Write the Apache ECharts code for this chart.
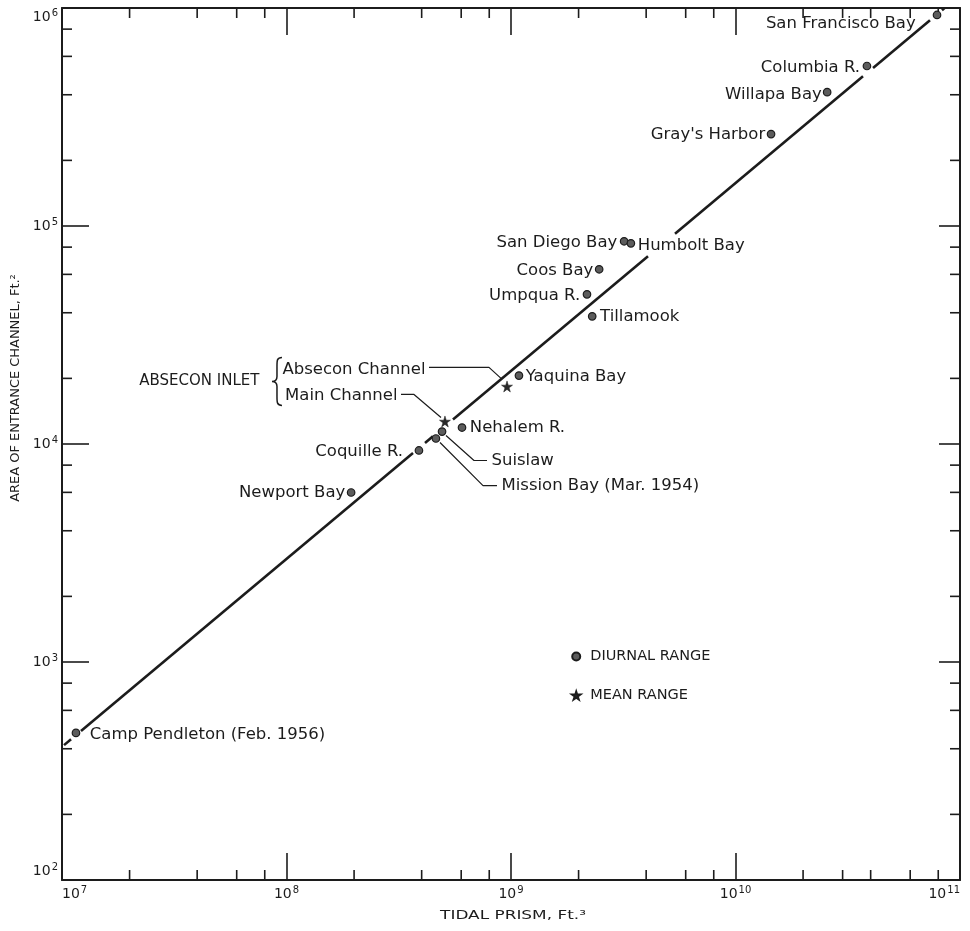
<!DOCTYPE html>
<html>
<head>
<meta charset="utf-8">
<script src="https://cdn.jsdelivr.net/npm/echarts@6.0.0/dist/echarts.min.js"></script>
<style>
html,body{margin:0;padding:0;background:#fff;}
#chart{width:970px;height:931px;}
</style>
</head>
<body>
<div id="chart"></div>
<script>
// ---------- data ----------
const xTickExponents = [7, 8, 9, 10, 11];
const yTickExponents = [2, 3, 4, 5, 6];
const minorXTicks = [2e7, 4e7, 6e7, 8e7, 2e8, 4e8, 6e8, 8e8, 2e9, 4e9, 6e9, 8e9, 2e10, 3e10, 4e10, 6e10, 8e10];
const minorYTicks = [200, 400, 600, 800, 2e3, 4e3, 6e3, 8e3, 2e4, 4e4, 6e4, 8e4, 2e5, 4e5, 6e5, 8e5];

// Diurnal range inlets (circles)
const diurnalNames = ['San Francisco Bay', 'Columbia R.', 'Willapa Bay', "Gray's Harbor", 'San Diego Bay', 'Humbolt Bay',
  'Coos Bay', 'Umpqua R.', 'Tillamook', 'Yaquina Bay', 'Nehalem R.', 'Suislaw', 'Mission Bay (Mar. 1954)',
  'Coquille R.', 'Newport Bay', 'Camp Pendleton (Feb. 1956)'];
const diurnalPrism = [7.90e10, 3.85e10, 2.56e10, 1.44e10, 3.19e9, 3.42e9,
  2.47e9, 2.18e9, 2.30e9, 1.085e9, 6.05e8, 4.93e8, 4.63e8,
  3.89e8, 1.94e8, 1.154e7];
const diurnalArea = [9.29e5, 5.42e5, 4.11e5, 2.64e5, 85100, 83300,
  63300, 48600, 38500, 20600, 11900, 11400, 10600,
  9340, 5990, 473];

// Mean range (stars) — Absecon Inlet
const meanNames = ['Absecon Channel', 'Main Channel'];
const meanPrism = [9.6e8, 5.08e8];
const meanArea = [18370, 12690];

// Fitted line, drawn as broken segments [P start, P end], [A start, A end]
const fitSegPrism = [[1.021e7, 1.097e7], [1.215e7, 3.66e8], [4.14e8, 4.49e8], [5.515e8, 4.076e9], [5.377e9, 3.698e10], [4.099e10, 7.35e10], [8.314e10, 8.53e10]];
const fitSegArea = [[415.6, 442.3], [483.1, 9097], [10113, 10856], [12952, 72627], [92212, 486060], [531000, 879000], [977200, 1.0e6]];

// Leader lines (prism, area)
const leaderAbseconP = [4.313e8, 7.98e8, 9.03e8];
const leaderAbseconA = [22460, 22460, 19990];
const leaderMainP = [3.236e8, 3.698e8, 4.878e8];
const leaderMainA = [16880, 16880, 13240];
const leaderSuislawP = [5.134e8, 6.842e8, 7.818e8];
const leaderSuislawA = [10940, 8400, 8400];
const leaderMissionP = [4.828e8, 7.505e8, 8.66e8];
const leaderMissionA = [10160, 6447, 6447];

// Annotation texts anchored in data space
const noteTexts = ['Absecon Channel', 'Main Channel', 'Suislaw', 'Mission Bay (Mar. 1954)', 'ABSECON INLET'];
const notePrism = [4.313e8, 3.236e8, 7.818e8, 8.66e8, 9.07e7];
const noteArea = [22460, 16880, 8400, 6447, 19370];
const braceAnchor = [9.07e7, 19370];

// ---------- styles / placements ----------
const INK = '#1c1c1c';
const FONT = 'DejaVu Sans';
const labelPlace = {
  'San Francisco Bay': ['left', 17, 9],
  'Columbia R.': ['left', 2.5, 2],
  'Willapa Bay': ['left', 1, 3],
  "Gray's Harbor": ['left', 1.5, 1],
  'San Diego Bay': ['left', 2.5, 1],
  'Humbolt Bay': ['right', 2.5, 2],
  'Coos Bay': ['left', 1.5, 1],
  'Umpqua R.': ['left', 2.5, 1],
  'Tillamook': ['right', 3.5, 0],
  'Yaquina Bay': ['right', 2.5, 1],
  'Nehalem R.': ['right', 3.5, 0],
  'Coquille R.': ['left', 11.5, 1],
  'Newport Bay': ['left', 1.5, 0],
  'Camp Pendleton (Feb. 1956)': ['right', 9.5, 2]
};
const notePlace = {
  'Absecon Channel': ['left', 3, 2],
  'Main Channel': ['left', 3, 1],
  'Suislaw': ['right', 4, 0],
  'Mission Bay (Mar. 1954)': ['right', 4, 0],
  'ABSECON INLET': ['left', 17, 0]
};
const LABEL_FS = 16.5;
const STAR = 'path://M50,0 L61,35 L98,35 L68,57 L79,91 L50,70 L21,91 L32,57 L2,35 L39,35 Z';

function expLabel(list) {
  return function (v) {
    const e = Math.round(Math.log10(v));
    return list.indexOf(e) >= 0 ? '{base|10}{sup|' + e + '}' : '';
  };
}
const richTick = {
  base: { fontSize: 14, fontFamily: FONT, color: INK },
  sup: { fontSize: 10, fontFamily: FONT, color: INK, padding: [0, 0, 8, 1] }
};

function axisBase(extra) {
  return Object.assign({
    type: 'log', logBase: 10,
    axisLine: { show: true, lineStyle: { color: INK, width: 2 } },
    axisTick: { show: true, inside: true, length: 27, lineStyle: { color: INK, width: 1.6 } },
    splitLine: { show: false },
    minorTick: { show: false }
  }, extra);
}

const series = [];

// fit line segments
fitSegPrism.forEach(function (seg, i) {
  series.push({
    type: 'line', silent: true, symbol: 'none', z: 2,
    lineStyle: { color: INK, width: 2.6 },
    data: [[seg[0], fitSegArea[i][0]], [seg[1], fitSegArea[i][1]]]
  });
});

// leader lines
[[leaderAbseconP, leaderAbseconA], [leaderMainP, leaderMainA], [leaderSuislawP, leaderSuislawA], [leaderMissionP, leaderMissionA]].forEach(function (pair) {
  series.push({
    type: 'line', silent: true, symbol: 'none', z: 2,
    lineStyle: { color: INK, width: 1.2 },
    data: pair[0].map(function (p, i) { return [p, pair[1][i]]; })
  });
});

// diurnal range points
series.push({
  name: 'DIURNAL RANGE', type: 'scatter', z: 4,
  symbol: 'circle', symbolSize: 7.5,
  itemStyle: { color: '#5c5c5c', borderColor: INK, borderWidth: 1.2, opacity: 1 },
  data: diurnalNames.map(function (n, i) {
    const pl = labelPlace[n];
    const item = { name: n, value: [diurnalPrism[i], diurnalArea[i]] };
    if (pl) {
      item.label = { show: true, formatter: n, position: pl[0], distance: pl[1], offset: [0, pl[2]],
        fontSize: LABEL_FS, fontFamily: FONT, color: INK };
    }
    return item;
  })
});

// mean range stars
series.push({
  name: 'MEAN RANGE', type: 'scatter', z: 4,
  symbol: STAR, symbolSize: 11,
  itemStyle: { color: '#2a2a2a', borderColor: INK, borderWidth: 0.5, opacity: 1 },
  data: meanNames.map(function (n, i) { return { name: n, value: [meanPrism[i], meanArea[i]] }; })
});

// annotation text anchors
series.push({
  type: 'scatter', silent: true, z: 5, symbolSize: 1,
  itemStyle: { color: 'rgba(0,0,0,0)', borderWidth: 0, opacity: 1 },
  data: noteTexts.map(function (t, i) {
    const pl = notePlace[t];
    return { name: t, value: [notePrism[i], noteArea[i]],
      label: { show: true, formatter: t, position: pl[0], distance: pl[1], offset: [0, pl[2]],
        fontSize: t === 'ABSECON INLET' ? 15 : LABEL_FS, fontFamily: FONT, color: INK, opacity: 1 } };
  })
});

// brace
series.push({
  type: 'custom', silent: true, z: 5, clip: false,
  data: [braceAnchor],
  renderItem: function (params, api) {
    const c = api.coord([api.value(0), api.value(1)]);
    return {
      type: 'path',
      shape: { pathData: 'M10,0 C5,0 5,3 5,9 L5,19 C5,22.5 3,24 0,24 C3,24 5,25.5 5,29 L5,39 C5,45 5,48 10,48',
        x: c[0] - 5, y: c[1] - 24, width: 10, height: 48, layout: 'cover' },
      style: { fill: 'none', stroke: INK, lineWidth: 1.5 }
    };
  }
});

// minor ticks on bottom/top
series.push({
  type: 'custom', silent: true, z: 3, clip: false,
  data: minorXTicks.map(function (v) { return [v, 1000]; }),
  renderItem: function (params, api) {
    const v = api.value(0);
    const b = api.coord([v, 100]);
    const t = api.coord([v, 1e6]);
    const st = { stroke: INK, lineWidth: 1.6 };
    return { type: 'group', children: [
      { type: 'line', shape: { x1: b[0], y1: b[1], x2: b[0], y2: b[1] - 10 }, style: st },
      { type: 'line', shape: { x1: t[0], y1: t[1], x2: t[0], y2: t[1] + 10 }, style: st }
    ] };
  }
});
// minor ticks on left/right
series.push({
  type: 'custom', silent: true, z: 3, clip: false,
  data: minorYTicks.map(function (v) { return [1e9, v]; }),
  renderItem: function (params, api) {
    const v = api.value(1);
    const l = api.coord([1e7, v]);
    const r = api.coord([1e11, v]);
    const st = { stroke: INK, lineWidth: 1.6 };
    return { type: 'group', children: [
      { type: 'line', shape: { x1: l[0], y1: l[1], x2: l[0] + 10, y2: l[1] }, style: st },
      { type: 'line', shape: { x1: r[0], y1: r[1], x2: r[0] - 10, y2: r[1] }, style: st }
    ] };
  }
});

const chart = echarts.init(document.getElementById('chart'), null, { renderer: 'canvas' });
chart.setOption({
  backgroundColor: '#fff',
  animation: false,
  textStyle: { fontFamily: FONT, color: INK },
  grid: { left: 62, right: 10, top: 8, bottom: 51 },
  legend: {
    data: ['DIURNAL RANGE', 'MEAN RANGE'],
    orient: 'vertical', left: 566, top: 644,
    itemWidth: 18, itemHeight: 8, itemGap: 24,
    selectedMode: false,
    textStyle: { fontSize: 14.5, fontFamily: FONT, color: INK, lineHeight: 14 }
  },
  xAxis: [
    axisBase({ position: 'bottom', min: 1e7, max: 1e11,
      axisLabel: { show: true, formatter: expLabel(xTickExponents), rich: richTick, margin: 5,
        alignMinLabel: 'left', alignMaxLabel: 'right' } }),
    axisBase({ position: 'top', min: 1e7, max: 1e11, axisLabel: { show: false } })
  ],
  yAxis: [
    axisBase({ position: 'left', min: 100, max: 1e6,
      axisLabel: { show: true, formatter: expLabel(yTickExponents), rich: richTick, margin: 4,
        verticalAlignMaxLabel: 'top', verticalAlignMinLabel: 'bottom' } }),
    axisBase({ position: 'right', min: 100, max: 1e6, axisLabel: { show: false },
      axisTick: { show: true, inside: true, length: 21, lineStyle: { color: INK, width: 1.6 } } })
  ],
  graphic: [
    { type: 'text', x: 513, y: 916, z: 10,
      style: { text: 'TIDAL PRISM, Ft.³', fontSize: 13, fontFamily: FONT, fill: INK, align: 'center', verticalAlign: 'middle' },
      scaleX: 1.3, originX: 0, originY: 0 },
    { type: 'text', x: 16, y: 388, z: 10, rotation: Math.PI / 2,
      style: { text: 'AREA OF ENTRANCE CHANNEL, Ft.²', fontSize: 12, fontFamily: FONT, fill: INK, align: 'center', verticalAlign: 'middle' },
      scaleX: 1.08 }
  ],
  series: series
});
</script>
</body>
</html>
